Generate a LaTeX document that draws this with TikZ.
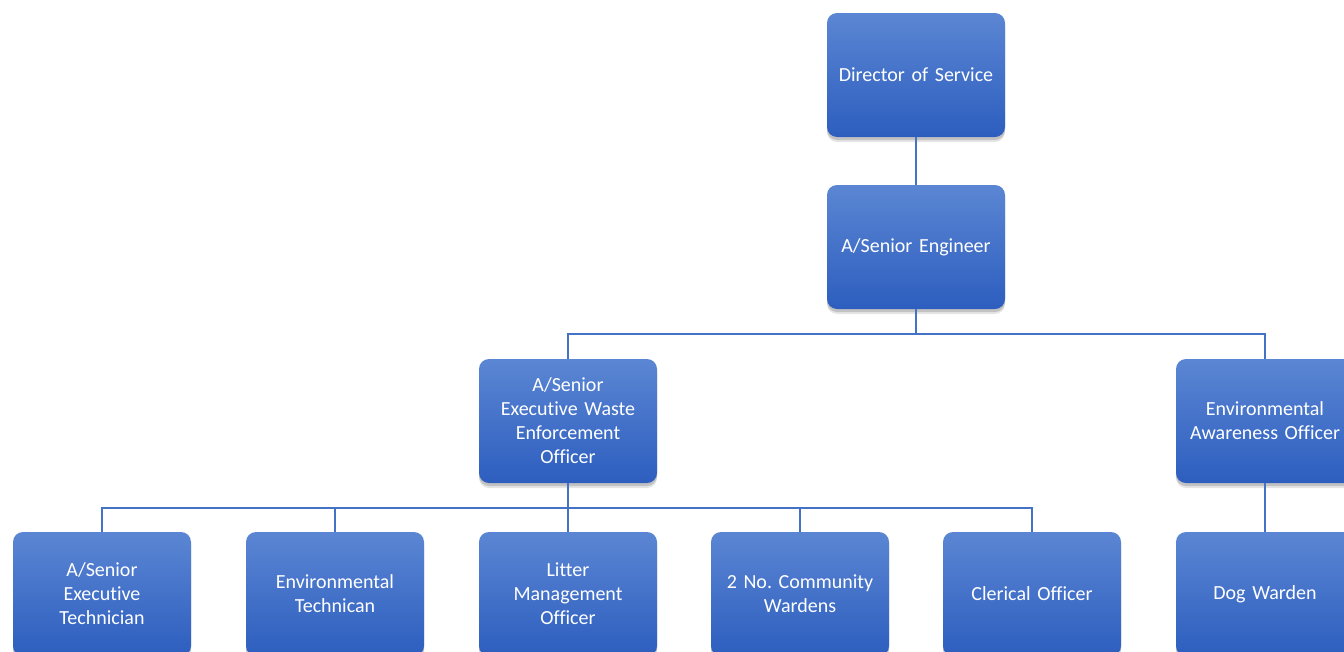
\documentclass[tikz,border=0pt]{standalone}
\usepackage{fontspec}
\setmainfont{Carlito}[Ligatures=NoCommon]
\frenchspacing
\definecolor{boxtop}{HTML}{5B86D3}
\definecolor{boxbot}{HTML}{2D5EBF}
\definecolor{linec}{HTML}{4472C4}
\tikzset{
  orgbox/.style={rounded corners=10pt, minimum width=178pt, minimum height=124pt,
    top color=boxtop, bottom color=boxbot, draw=none, text=white,
    font=\fontsize{20pt}{24pt}\selectfont, align=center, text width=170pt,
    preaction={fill=black, opacity=0.10, transform canvas={yshift=-5pt}},
    preaction={fill=black, opacity=0.15, transform canvas={yshift=-3pt}}},
  link/.style={draw=linec, line width=1.8pt}
}
\begin{document}
\begin{tikzpicture}[x=1pt,y=-1pt]
\useasboundingbox[fill=white] (0,0) rectangle (1344,651);
\node[orgbox] (dir) at (916,75) {Director of Service};
\node[orgbox] (se) at (916,247) {A/Senior Engineer};
\node[orgbox] (wo) at (568,421) {A/Senior\\Executive Waste\\Enforcement\\Officer};
\node[orgbox] (ea) at (1265,421) {Environmental\\Awareness Officer};
\node[orgbox] (b1) at (102,594) {A/Senior\\Executive\\Technician};
\node[orgbox] (b2) at (335,594) {Environmental\\Technican};
\node[orgbox] (b3) at (568,594) {Litter\\Management\\Officer};
\node[orgbox] (b4) at (800,594) {2 No. Community\\Wardens};
\node[orgbox] (b5) at (1032,594) {Clerical Officer};
\node[orgbox] (dw) at (1265,594) {Dog Warden};
\draw[link] (dir.south) -- (se.north);
\coordinate (j1) at (916,334);
\draw[link] (se.south) -- (j1);
\draw[link] (wo.north) |- (j1) -| (ea.north);
\coordinate (j2) at (568,508);
\draw[link] (wo.south) -- (j2);
\draw[link] (b1.north) |- (j2) -| (b5.north);
\draw[link] (b2.north) -- (b2.north |- j2);
\draw[link] (b3.north) -- (j2);
\draw[link] (b4.north) -- (b4.north |- j2);
\draw[link] (ea.south) -- (dw.north);
\end{tikzpicture}
\end{document}
